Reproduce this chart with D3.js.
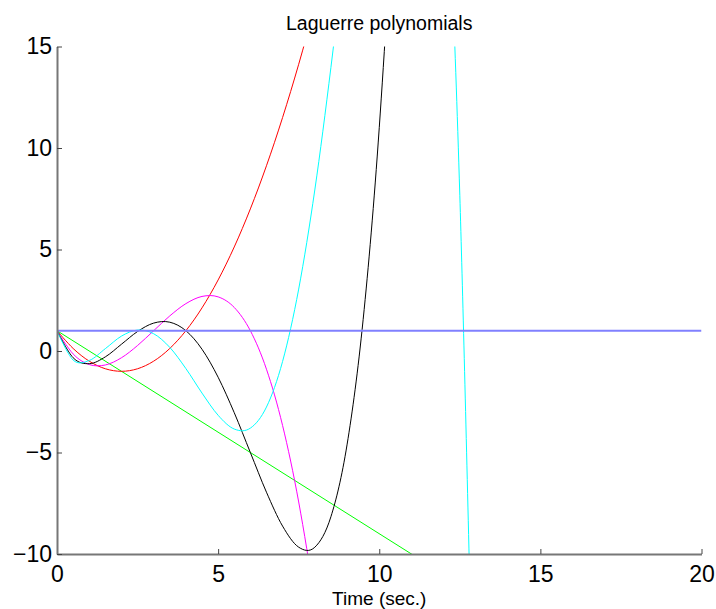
<!DOCTYPE html>
<html>
<head>
<meta charset="utf-8">
<script src="https://cdn.jsdelivr.net/npm/d3@7"></script>
<style>
  body { margin: 0; background: #fff; }
  text { font-family: "Liberation Sans", Arial, sans-serif; fill: #000; }
</style>
</head>
<body>
<div id="chart"></div>
<script>
// values
const timeLinear = [0, 20];
const lag0 = [1, 1];
const lag1 = [1, -19];

const timeSamples = [0, 0.5, 1, 1.5, 2, 2.5, 3, 3.5, 4, 4.5, 5, 5.5, 6, 6.5, 7,
    7.5, 8, 8.5, 9, 9.5, 10, 10.5, 11, 11.5, 12, 12.5, 13];
const lag2 = [1, 0.125, -0.5, -0.875, -1, -0.875, -0.5, 0.125, 1, 2.125, 3.5,
    5.125, 7, 9.125, 11.5, 14.125, 17, 20.125, 23.5];
const lag3 = [1, -0.146, -0.667, -0.688, -0.333, 0.271, 1, 1.729, 2.333, 2.688,
    2.667, 2.146, 1, -0.896, -3.667, -7.438, -12.333, -18.479];
const lag4 = [1, -0.331, -0.625, -0.289, 0.333, 0.961, 1.375, 1.419, 1, 0.086,
    -1.292, -3.039, -5, -6.956, -8.625, -9.664, -9.667, -8.164, -4.625, 1.544,
    11, 24.461, 42.708];
const lag5 = [1, -0.446, -0.467, 0.116, 0.733, 1.033, 0.85, 0.178, -0.867, -2.073,
    -3.167, -3.844, -3.8, -2.761, -0.517, 3.051, 7.933, 13.967, 20.8, 27.862,
    34.333, 39.112, 40.783, 37.59, 27.4, 7.673, -24.567];

const xTicks = [0, 5, 10, 15, 20];
const yTicks = [-10, -5, 0, 5, 10, 15];

const width = 716;
const height = 609;
const margin = { top: 46.5, right: 14.5, bottom: 55, left: 57 };

const svg = d3.select("#chart").append("svg")
    .attr("width", width)
    .attr("height", height);

const x = d3.scaleLinear().domain([0, 20]).range([margin.left, width - margin.right]);
const y = d3.scaleLinear().domain([-10, 15]).range([height - margin.bottom, margin.top]);

svg.append("clipPath").attr("id", "plot-clip")
    .append("rect")
    .attr("x", x(0)).attr("y", y(15))
    .attr("width", x(20) - x(0)).attr("height", y(-10) - y(15));

const line = d3.line()
    .x(d => x(d[0]))
    .y(d => y(d[1]))
    .curve(d3.curveCardinal.tension(0));

const series = [
    { xs: timeLinear, ys: lag1, color: "#00ff00", w: 1 },
    { xs: timeSamples, ys: lag2, color: "#ff0000", w: 1 },
    { xs: timeSamples, ys: lag3, color: "#ff00ff", w: 1 },
    { xs: timeSamples, ys: lag4, color: "#000000", w: 1 },
    { xs: timeSamples, ys: lag5, color: "#00ffff", w: 1 },
    { xs: timeLinear, ys: lag0, color: "#8080ff", w: 2 }
];

const plot = svg.append("g").attr("clip-path", "url(#plot-clip)");

plot.selectAll("path")
    .data(series)
    .join("path")
    .attr("d", s => line(s.ys.map((v, i) => [s.xs[i], v])))
    .attr("fill", "none")
    .attr("stroke", d => d.color)
    .attr("stroke-width", d => d.w);

// axes, matlab style: ticks inside
const xAxis = svg.append("g")
    .attr("transform", `translate(0,${y(-10)})`)
    .call(d3.axisBottom(x).tickValues(xTicks).tickSizeInner(-5).tickSizeOuter(0).tickPadding(12));

const yAxis = svg.append("g")
    .attr("transform", `translate(${x(0)},0)`)
    .call(d3.axisLeft(y).tickValues(yTicks).tickSizeInner(-5).tickSizeOuter(0).tickPadding(5)
        .tickFormat(d => d < 0 ? "\u2212" + Math.abs(d) : d));

[xAxis, yAxis].forEach(g => {
    g.select(".domain").attr("stroke", "#777").attr("stroke-width", 2);
    g.selectAll(".tick line").attr("stroke", "#444");
    g.selectAll(".tick text")
        .style("font-family", "'Liberation Sans', Arial, sans-serif")
        .style("font-size", "23px")
        .attr("fill", "#000");
});

svg.append("text")
    .attr("x", (x(0) + x(20)) / 2)
    .attr("y", 30)
    .attr("text-anchor", "middle")
    .style("font-size", "19.5px")
    .text("Laguerre polynomials");

svg.append("text")
    .attr("x", (x(0) + x(20)) / 2)
    .attr("y", 605)
    .attr("text-anchor", "middle")
    .style("font-size", "19px")
    .text("Time (sec.)");
</script>
</body>
</html>
